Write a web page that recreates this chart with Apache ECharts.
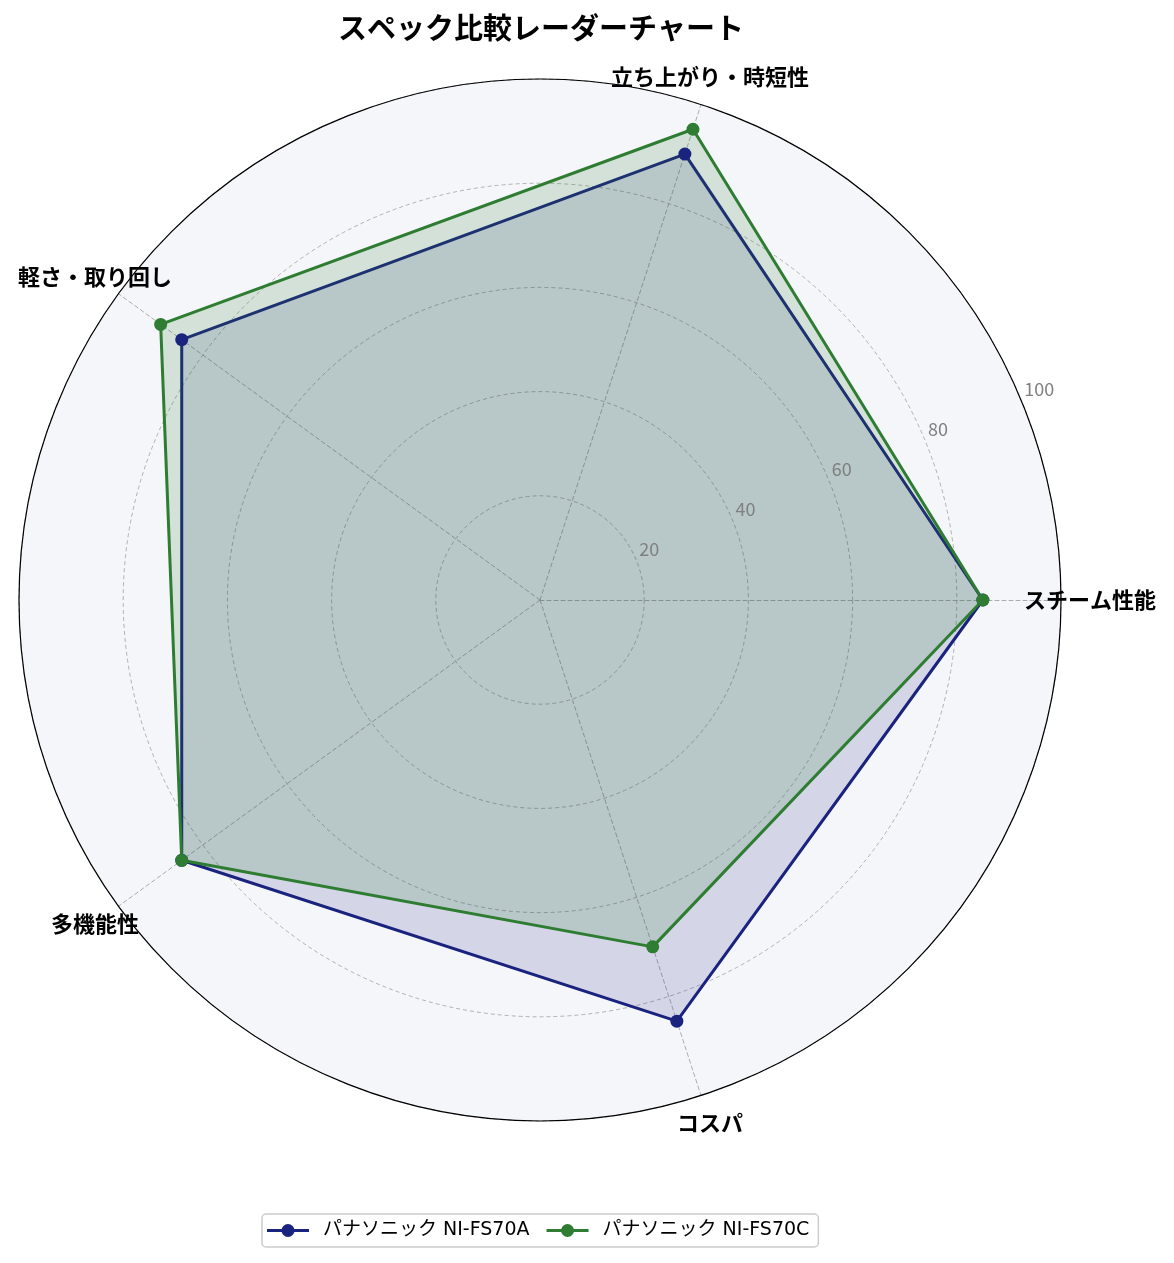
<!DOCTYPE html>
<html><head><meta charset="utf-8">
<script src="https://cdn.jsdelivr.net/npm/echarts@6/dist/echarts.min.js"></script>
<style>html,body{margin:0;padding:0;background:#fff}#c{width:1174px;height:1263px}</style>
</head><body><div id="c"></div>
<script>
const categories = ['スチーム性能', '立ち上がり・時短性', '軽さ・取り回し', '多機能性', 'コスパ'];
const seriesNames = ['パナソニック NI-FS70A', 'パナソニック NI-FS70C'];
const valuesA = [85, 90, 85, 85, 85];
const valuesC = [85, 95, 90, 85, 70];
const tickValues = [20, 40, 60, 80, 100];
const colors = ['#1a237e', '#2e7d32'];

const FONT = '"Noto Sans CJK JP", "Noto Sans", sans-serif';
const LEGEND_FONT = '"DejaVu Sans", "Noto Sans CJK JP", sans-serif';
const legendIcon = 'path://M0,5 L42,5 L42,8 L0,8 Z M14.5,6.5 A6.5,6.5 0 1,1 27.5,6.5 A6.5,6.5 0 1,1 14.5,6.5 Z';
const chart = echarts.init(document.getElementById('c'));
chart.setOption({
  backgroundColor: '#ffffff',
  textStyle: { fontFamily: FONT },
  title: {
    text: 'スペック比較レーダーチャート', left: 536, textAlign: 'center', top: 8,
    textStyle: { fontSize: 29, fontWeight: 'bold', color: '#000', fontFamily: FONT }
  },
  legend: {
    bottom: 16, left: 262,
    data: seriesNames.map(n => ({ name: n, icon: legendIcon })),
    itemWidth: 42, itemHeight: 13, itemGap: 17,
    borderColor: '#cccccc', borderWidth: 1.5, borderRadius: 4, padding: [7, 9, 7, 5],
    formatter: n => '{t|' + n + '}',
    textStyle: {
      fontSize: 19, color: '#000', fontFamily: LEGEND_FONT,
      rich: { t: { fontSize: 19, color: '#000', fontFamily: LEGEND_FONT, padding: [0, 0, 0, 9] } }
    }
  },
  polar: { center: [540, 600], radius: 521 },
  angleAxis: {
    type: 'value', min: 0, max: 360, startAngle: 22.5,
    axisLine: { show: true, lineStyle: { color: '#000', width: 1.2 } },
    axisTick: { show: false }, axisLabel: { show: false }, splitLine: { show: false }, z: 5
  },
  radiusAxis: {
    type: 'value', min: 0, max: 100, interval: 20,
    axisLine: { show: false }, axisTick: { show: false }, splitLine: { show: false },
    axisLabel: {
      show: true, color: '#808080', fontSize: 18, fontFamily: FONT,
      showMinLabel: false, margin: 0, align: 'left', verticalAlign: 'bottom',
      padding: [0, 0, 2, 3],
      formatter: v => tickValues.includes(v) ? String(v) : ''
    },
    z: 6
  },
  radar: {
    center: [540, 600], radius: 521, startAngle: 0, shape: 'circle',
    splitNumber: 5,
    indicator: categories.map(n => ({ name: n, max: 100, min: 0 })),
    axisName: {
      color: '#000', fontSize: 22, fontWeight: 'bold', fontFamily: FONT,
      align: 'center', verticalAlign: 'middle'
    },
    nameGap: 29,
    axisLine: { lineStyle: { color: '#999', type: [4, 3], width: 0.8 } },
    splitLine: { lineStyle: { color: '#a0a0a0', type: [4, 3], width: 0.8 } },
    splitArea: { show: true, areaStyle: { color: ['#f5f6fa'] } }
  },
  series: [{
    type: 'radar',
    data: [
      {
        name: seriesNames[0], value: valuesA,
        symbol: 'circle', symbolSize: 13,
        lineStyle: { color: colors[0], width: 3 },
        itemStyle: { color: colors[0] },
        areaStyle: { color: colors[0], opacity: 0.15 }
      },
      {
        name: seriesNames[1], value: valuesC,
        symbol: 'circle', symbolSize: 13,
        lineStyle: { color: colors[1], width: 3 },
        itemStyle: { color: colors[1] },
        areaStyle: { color: colors[1], opacity: 0.17 }
      }
    ]
  }]
});
</script></body></html>
